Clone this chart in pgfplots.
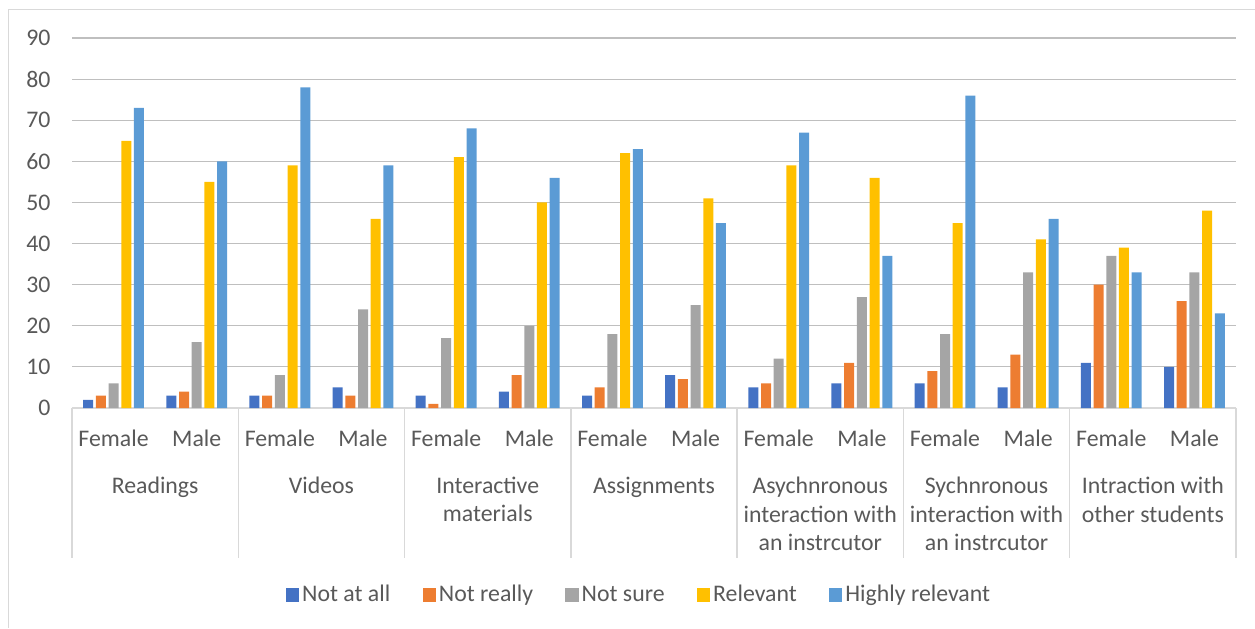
\documentclass[border=0pt]{standalone}
\usepackage{fontspec}
\setmainfont{Carlito}
\usepackage{pgfplots}
\pgfplotsset{compat=1.18}
\usepackage{pgfplotstable}

\definecolor{cA}{HTML}{4472C4}
\definecolor{cB}{HTML}{ED7D31}
\definecolor{cC}{HTML}{A5A5A5}
\definecolor{cD}{HTML}{FFC000}
\definecolor{cE}{HTML}{5B9BD5}
\definecolor{txt}{HTML}{595959}
\definecolor{grid}{HTML}{D9D9D9}

% x = position (Female/Male within each resource), one column per response
\pgfplotstableread{
x notatall notreally notsure relevant highly
0  2  3  6 65 73
1  3  4 16 55 60
2  3  3  8 59 78
3  5  3 24 46 59
4  3  1 17 61 68
5  4  8 20 50 56
6  3  5 18 62 63
7  8  7 25 51 45
8  5  6 12 59 67
9  6 11 27 56 37
10 6  9 18 45 76
11 5 13 33 41 46
12 11 30 37 39 33
13 10 26 33 48 23
}\datatable

\newcommand\chartfont{\fontsize{11.9}{14.25}\selectfont}
\tikzset{grp/.style={anchor=north, align=center, inner sep=0pt, text=txt,
        font=\chartfont}}

\begin{document}
\begin{tikzpicture}
\useasboundingbox (0,0) rectangle (627.5pt,314pt);
\draw[grid, line width=0.6pt] (627.5pt,309.25pt) -- (4.25pt,309.25pt) -- (4.25pt,0pt);
\begin{axis}[
  at={(36pt,110pt)}, anchor=south west,
  scale only axis, width=582pt, height=185pt,
  ybar=1.35pt, bar width=5pt,
  ymin=0, ymax=90, ytick={0,10,...,90},
  xmin=-0.5, xmax=13.5,
  xtick={0,...,13},
  xticklabels={Female,Male,Female,Male,Female,Male,Female,Male,Female,Male,Female,Male,Female,Male},
  xtick style={draw=none}, ytick style={draw=none},
  xmajorgrids=false, xminorgrids=false,
  axis y line*=left, axis x line*=bottom,
  y axis line style={draw=none},
  x axis line style={grid, line width=0.8pt},
  ymajorgrids, grid style={grid, line width=0.6pt},
  font=\chartfont,
  tick label style={text=txt},
  /pgf/number format/assume math mode=true,
  yticklabel style={xshift=-7.2pt},
  xticklabel style={yshift=-3.2pt},
  clip=false,
  legend columns=5,
  legend style={draw=none, fill=none, at={(0.4875,-0.5054)}, anchor=center,
    font=\chartfont, text=txt,
    /tikz/every even column/.append style={column sep=14.6pt},
    nodes={inner sep=1.5pt}},
  legend image code/.code={\fill[#1] (0pt,-3.4pt) rectangle (6.7pt,3.4pt);},
]
\addplot[fill=cA, draw=none] table[x=x, y=notatall] {\datatable};
\addplot[fill=cB, draw=none] table[x=x, y=notreally] {\datatable};
\addplot[fill=cC, draw=none] table[x=x, y=notsure] {\datatable};
\addplot[fill=cD, draw=none] table[x=x, y=relevant] {\datatable};
\addplot[fill=cE, draw=none] table[x=x, y=highly] {\datatable};
\legend{Not at all, Not really, Not sure, Relevant, Highly relevant}

% group separators below the axis
\pgfplotsinvokeforeach{-0.5,1.5,3.5,5.5,7.5,9.5,11.5,13.5}{
  \draw[grid, line width=0.7pt] (axis cs:#1,0) -- ([yshift=-75pt]axis cs:#1,0);
}
% resource names
\node[grp] at ([yshift=-34.3pt]axis cs:0.5,0) {Readings};
\node[grp] at ([yshift=-34.3pt]axis cs:2.5,0) {Videos};
\node[grp] at ([yshift=-34.3pt]axis cs:4.5,0) {Interactive\\materials};
\node[grp] at ([yshift=-34.3pt]axis cs:6.5,0) {Assignments};
\node[grp] at ([yshift=-34.3pt]axis cs:8.5,0) {Asychnronous\\interaction with\\an instrcutor};
\node[grp] at ([yshift=-34.3pt]axis cs:10.5,0) {Sychnronous\\interaction with\\an instrcutor};
\node[grp] at ([yshift=-34.3pt]axis cs:12.5,0) {Intraction with\\other students};
\end{axis}
\end{tikzpicture}
\end{document}
